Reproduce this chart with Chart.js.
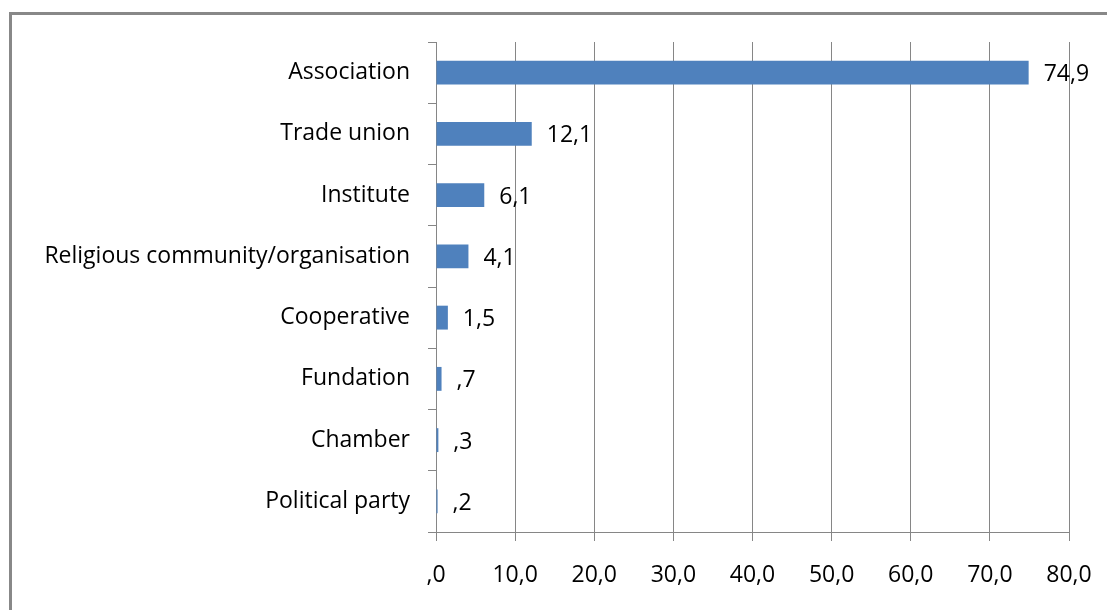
<!DOCTYPE html>
<html>
<head>
<meta charset="utf-8">
<script src="https://cdn.jsdelivr.net/npm/chart.js@4/dist/chart.umd.min.js"></script>
<style>
  html, body { margin: 0; padding: 0; background: #fff; }
  #wrap { position: relative; width: 1107px; height: 610px; }
</style>
</head>
<body>
<div id="wrap"><canvas id="c" width="1107" height="610"></canvas></div>
<script>
const categories = ["Association", "Trade union", "Institute", "Religious community/organisation", "Cooperative", "Fundation", "Chamber", "Political party"];
const values = [74.9, 12.1, 6.1, 4.1, 1.5, 0.7, 0.3, 0.2];
const xTicks = [0, 10, 20, 30, 40, 50, 60, 70, 80];

const FONT = "'Open Sans', sans-serif";
const GRID = "#868686";

function fmt(v) {
  let s = v.toFixed(1).replace('.', ',');
  if (s.startsWith('0,')) s = s.slice(1);
  return s;
}

const framePlugin = {
  id: 'frame',
  beforeDraw(chart) {
    const ctx = chart.ctx;
    ctx.save();
    ctx.strokeStyle = '#888888';
    ctx.lineWidth = 3;
    ctx.beginPath();
    ctx.moveTo(10.5, 610);
    ctx.lineTo(10.5, 13.5);
    ctx.lineTo(1107, 13.5);
    ctx.stroke();
    ctx.restore();
  }
};

const labelPlugin = {
  id: 'barLabels',
  afterDatasetsDraw(chart) {
    const ctx = chart.ctx;
    const meta = chart.getDatasetMeta(0);
    ctx.save();
    ctx.font = "23px " + FONT;
    ctx.fillStyle = '#000';
    ctx.textAlign = 'left';
    ctx.textBaseline = 'middle';
    meta.data.forEach((bar, i) => {
      ctx.fillText(fmt(values[i]), bar.x + 15, bar.y + 2);
    });
    ctx.restore();
  }
};

new Chart(document.getElementById('c'), {
  type: 'bar',
  data: {
    labels: categories,
    datasets: [{
      data: values,
      backgroundColor: '#4F81BD',
      borderWidth: 0,
      barPercentage: 0.39,
      categoryPercentage: 1
    }]
  },
  options: {
    indexAxis: 'y',
    responsive: false,
    animation: false,
    events: [],
    layout: { padding: { top: 42, right: 38, left: 0, bottom: 0 } },
    plugins: { legend: { display: false }, tooltip: { enabled: false } },
    scales: {
      x: {
        min: 0, max: 80,
        afterBuildTicks(scale) { scale.ticks = xTicks.map(v => ({ value: v })); },
        ticks: {
          callback: (v) => fmt(v),
          font: { family: FONT, size: 23 },
          color: '#000',
          padding: 21,
          maxRotation: 0
        },
        grid: { color: GRID, lineWidth: 1, tickLength: 9, drawTicks: true },
        border: { color: GRID, width: 1 },
        afterFit(scale) { scale.height = 78; scale.paddingLeft = 0; scale.paddingRight = 0; }
      },
      y: {
        grid: { offset: true, drawOnChartArea: false, drawTicks: true, tickLength: 8, color: GRID },
        border: { color: GRID, width: 1 },
        ticks: {
          font: { family: FONT, size: 23 },
          color: '#000',
          padding: 18
        },
        afterFit(scale) { scale.width = 436; scale.paddingTop = 0; scale.paddingBottom = 0; }
      }
    }
  },
  plugins: [framePlugin, labelPlugin]
});
</script>
</body>
</html>
